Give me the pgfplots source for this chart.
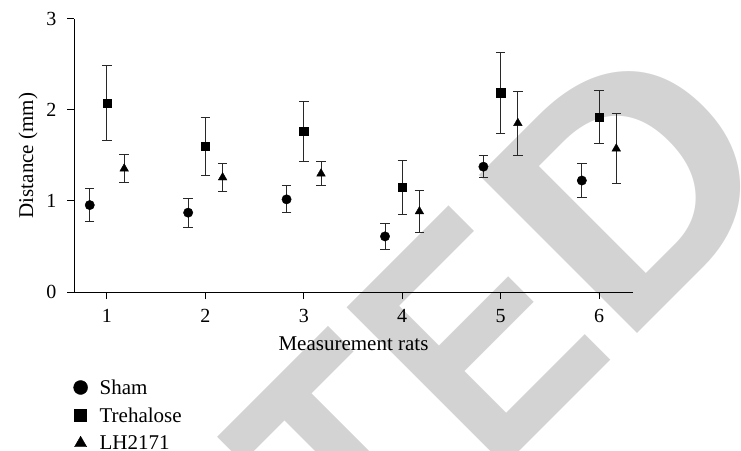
\documentclass[border=0pt]{standalone}
\usepackage{pgfplots}
\usepackage{pgfplotstable}
\pgfplotsset{compat=1.18}
\usepackage{fontspec}
\setmainfont{Liberation Serif}
\newfontfamily\wmfont{Liberation Sans}
\definecolor{wmgray}{RGB}{211,211,211}
\definecolor{ebar}{RGB}{40,40,40}

\pgfplotstableread{
x y e
0.825 0.955 0.180
1.825 0.872 0.160
2.825 1.018 0.148
3.825 0.611 0.147
4.825 1.377 0.121
5.825 1.225 0.190
}\sham
\pgfplotstableread{
x y e
1 2.077 0.410
2 1.600 0.320
3 1.767 0.330
4 1.150 0.295
5 2.190 0.443
6 1.920 0.293
}\treh
\pgfplotstableread{
x y e
1.175 1.355 0.157
2.175 1.258 0.156
3.175 1.300 0.134
4.175 0.885 0.226
5.175 1.855 0.350
6.175 1.575 0.385
}\lh

\begin{document}
\begin{tikzpicture}
\useasboundingbox (0,0) rectangle (741bp,451bp);
\begin{scope}
\clip (0,0) rectangle (741bp,451bp);
\begin{scope}[shift={(485.5bp,-34.5bp)}, rotate=45]
  \begin{scope}[shift={(5bp,0)}]
    \node[transform shape, xscale=0.82, anchor=base east, inner sep=0pt, text=wmgray,
      font=\wmfont\bfseries\fontsize{325bp}{325bp}\selectfont] at (0,0) {RETRACT};
  \end{scope}
  \begin{scope}[shift={(10bp,0)}]
    \node[transform shape, xscale=0.82, anchor=base west, inner sep=0pt, text=wmgray,
      font=\wmfont\bfseries\fontsize{325bp}{325bp}\selectfont] at (0,0) {E};
  \end{scope}
  \begin{scope}[shift={(192bp,0)}]
    \node[transform shape, xscale=1.04, anchor=base west, inner sep=0pt, text=wmgray,
      font=\wmfont\bfseries\fontsize{325bp}{325bp}\selectfont] at (0,0) {D};
  \end{scope}
\end{scope}
\end{scope}
\begin{axis}[
  at={(74bp,159bp)}, anchor=south west,
  scale only axis, width=559bp, height=273bp,
  xmin=0.665, xmax=6.345, ymin=0, ymax=3,
  axis x line*=bottom, axis y line*=left,
  axis line style={line width=1bp, black},
  xtick={1,2,3,4,5,6}, ytick={0,1,2,3},
  tick align=outside, major tick length=7bp,
  tick style={line width=1bp, black},
  /pgf/number format/assume math mode=true,
  tick label style={font=\fontsize{20bp}{24bp}\selectfont},
  xticklabel style={yshift=-7bp},
  yticklabel style={xshift=-7bp},
  label style={font=\fontsize{21bp}{25bp}\selectfont},
  xlabel={Measurement rats}, ylabel={Distance (mm)},
  xlabel style={at={(axis description cs:0.5,-0.2125)}, anchor=base},
  ylabel style={at={(axis description cs:-0.0823,0.5)}, anchor=center},
  legend cell align=left,
  legend style={draw=none, fill=none, at={(axis description cs:-0.0064,-0.305)}, anchor=north west,
    font=\fontsize{21bp}{25bp}\selectfont, row sep=8bp, column sep=10bp},
  error bars/error bar style={line width=1bp, ebar},
  error bars/error mark options={rotate=90, mark size=4.7bp, line width=1bp, ebar},
]
\addlegendimage{only marks, mark=*, mark size=7bp, black}
\addlegendentry{Sham}
\addlegendimage{only marks, mark=square*, mark size=6bp, black}
\addlegendentry{Trehalose}
\addlegendimage{only marks, mark=triangle*, mark size=7bp, black}
\addlegendentry{LH2171}
\addplot[forget plot, only marks, mark=*, mark size=4.7bp, black,
  error bars/.cd, y dir=both, y explicit] table[x=x, y=y, y error=e] {\sham};
\addplot[forget plot, only marks, mark=square*, mark size=4.2bp, black,
  error bars/.cd, y dir=both, y explicit] table[x=x, y=y, y error=e] {\treh};
\addplot[forget plot, only marks, mark=triangle*, mark size=5bp, black,
  error bars/.cd, y dir=both, y explicit] table[x=x, y=y, y error=e] {\lh};
\end{axis}
\end{tikzpicture}
\end{document}
